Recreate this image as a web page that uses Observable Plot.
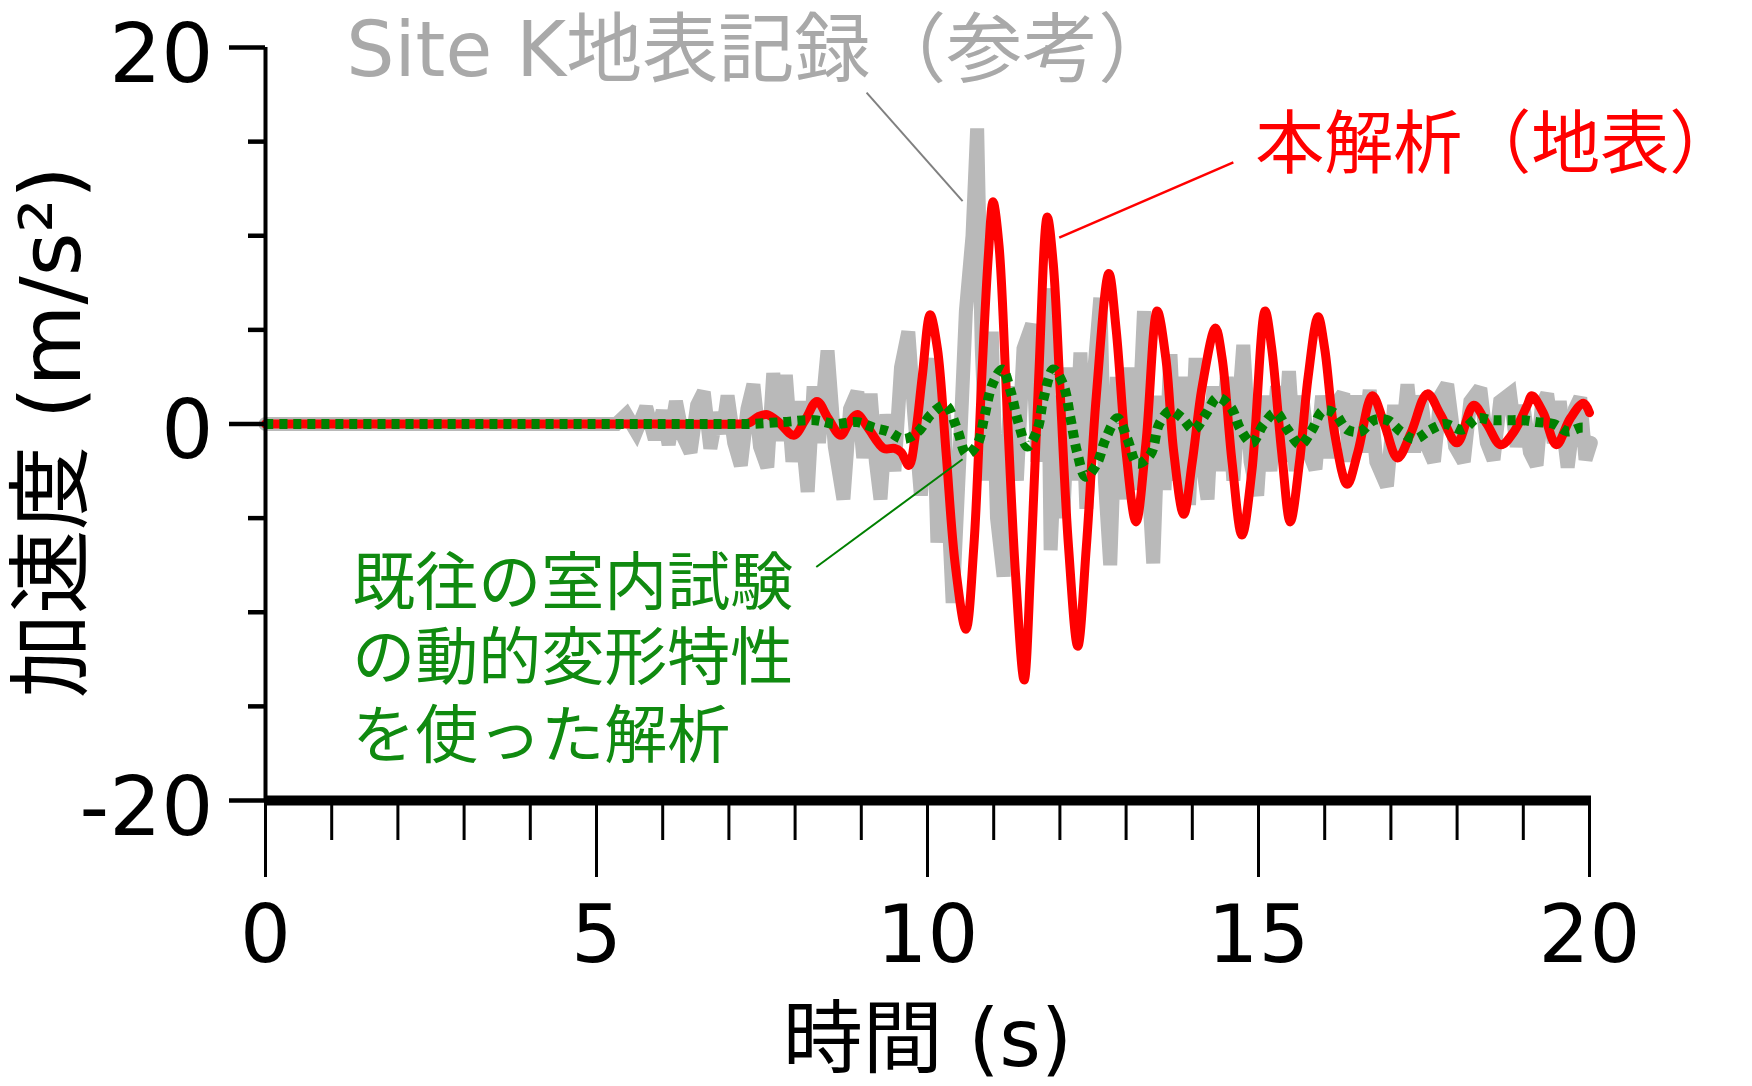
<!DOCTYPE html>
<html>
<head>
<meta charset="utf-8">
<script src="https://cdn.jsdelivr.net/npm/d3@7"></script>
<script src="https://cdn.jsdelivr.net/npm/@observablehq/plot@0.6"></script>
<style>
  html, body { margin: 0; padding: 0; background: #fff; }
  #chart svg { display: block; }
</style>
</head>
<body>
<div id="chart"></div>
<script>
// ---- data ----
// Site K surface record (reference, gray)
const grayT = [0, 5.3, 5.45, 5.6, 5.75, 5.88, 6.0, 6.09, 6.2, 6.3, 6.42, 6.52, 6.62, 6.72, 6.82, 6.9, 6.98, 7.08, 7.18, 7.28, 7.37, 7.47, 7.58, 7.67, 7.77, 7.86, 7.96, 8.06, 8.19, 8.28, 8.36, 8.49, 8.6, 8.73, 8.83, 8.94, 9.03, 9.14, 9.22, 9.29, 9.38, 9.5, 9.6, 9.71, 9.8, 9.9, 10.0, 10.07, 10.15, 10.25, 10.38, 10.48, 10.58, 10.68, 10.75, 10.82, 10.9, 10.97, 11.05, 11.15, 11.25, 11.35, 11.45, 11.58, 11.66, 11.72, 11.81, 11.86, 11.96, 12.05, 12.15, 12.22, 12.31, 12.4, 12.5, 12.61, 12.68, 12.76, 12.86, 12.96, 13.05, 13.15, 13.27, 13.33, 13.41, 13.5, 13.58, 13.67, 13.76, 13.85, 13.95, 14.05, 14.15, 14.23, 14.32, 14.42, 14.52, 14.62, 14.77, 14.88, 14.98, 15.08, 15.18, 15.28, 15.37, 15.46, 15.56, 15.66, 15.76, 15.86, 15.96, 16.06, 16.16, 16.28, 16.38, 16.48, 16.58, 16.68, 16.78, 16.94, 17.05, 17.15, 17.25, 17.35, 17.45, 17.55, 17.65, 17.75, 17.85, 17.97, 18.1, 18.2, 18.35, 18.45, 18.55, 18.65, 18.8, 18.9, 19.0, 19.1, 19.2, 19.28, 19.36, 19.46, 19.55, 19.67, 19.78, 19.86, 19.94, 20.02];
const grayV = [0, 0, 0.5, -0.4, 0.9, -0.8, 0.7, -1.1, 1.2, -0.6, -1.5, 1.0, 1.7, -1.3, 0.6, -0.5, 1.5, -1.0, -2.2, 0.8, 2.1, -1.2, -2.3, 2.7, -0.9, 2.6, -2.0, 1.2, -3.6, 2.0, -1.0, 3.9, -1.2, -4.0, 0.8, 1.7, -1.8, 1.6, -2.0, -4.0, 0.5, -2.5, 3.0, 4.9, 0.5, -3.8, 1.0, 3.5, -6.3, 0.5, -9.5, -2.0, 6.0, 10.0, 15.7, 4.0, -3.0, 4.9, -5.0, -8.1, 2.0, -3.0, 4.0, 5.3, -2.0, 3.0, 7.2, -6.7, 1.5, -5.0, 3.0, -3.0, 3.8, -4.5, 2.0, 6.7, -3.0, -7.5, 2.5, -4.0, 3.0, -3.5, 6.0, -2.5, -7.4, 1.5, -3.5, 3.7, -3.0, 2.5, -4.3, 3.5, -2.0, -4.0, 2.0, -2.5, 2.5, -3.0, 4.2, -2.0, -3.8, 1.5, -2.5, 2.0, -2.0, 2.8, -2.5, 1.5, -1.5, -2.4, 1.5, -1.8, 1.0, 1.6, -2.0, 1.5, -1.5, 1.8, -2.0, -3.3, 1.0, -1.5, 2.1, -1.5, 1.5, -1.2, -2.0, 1.5, 2.1, -1.2, -2.0, 1.2, 1.9, -1.0, -1.9, 1.2, 1.6, -1.2, 1.0, -1.5, -2.2, 1.0, 1.6, -1.0, 1.2, -2.3, 0.8, 1.4, -1.9, -1.0];

// This analysis (surface, red)
const redT = [0, 3.0, 6.0, 7.1, 7.3, 7.45, 7.58, 7.75, 7.98, 8.15, 8.33, 8.5, 8.69, 8.82, 8.94, 9.1, 9.34, 9.5, 9.6, 9.72, 9.82, 9.92, 10.04, 10.15, 10.28, 10.42, 10.58, 10.7, 10.82, 10.92, 10.99, 11.08, 11.2, 11.33, 11.46, 11.56, 11.68, 11.81, 11.9, 12.0, 12.13, 12.27, 12.4, 12.55, 12.74, 12.85, 13.0, 13.15, 13.3, 13.47, 13.6, 13.72, 13.87, 14.0, 14.15, 14.35, 14.45, 14.6, 14.75, 14.9, 15.1, 15.2, 15.35, 15.48, 15.62, 15.75, 15.9, 16.0, 16.15, 16.34, 16.5, 16.72, 16.9, 17.1, 17.3, 17.55, 17.75, 18.0, 18.25, 18.45, 18.66, 18.86, 19.06, 19.13, 19.3, 19.5, 19.71, 19.91, 20.0];
const redV = [0, 0, 0, 0, 0.05, 0.4, 0.5, 0.1, -0.6, 0.2, 1.2, 0.3, -0.6, 0.1, 0.5, -0.2, -1.3, -1.3, -1.5, -2.2, -0.5, 2.5, 5.8, 4.0, -1.5, -7.5, -10.9, -6.5, 2.5, 9.0, 11.8, 9.5, 1.0, -8.0, -13.6, -7.5, 2.5, 11.0, 8.5, 2.0, -6.5, -11.8, -6.5, 1.5, 8.0, 5.0, -1.5, -5.2, -1.0, 6.0, 3.5, -1.5, -4.8, -2.0, 2.0, 5.1, 3.5, -2.0, -5.9, -2.5, 6.0, 4.0, -1.5, -5.2, -2.0, 2.5, 5.7, 4.0, -0.5, -3.2, -1.5, 1.5, 0.0, -1.8, -0.5, 1.6, 0.5, -1.0, 1.0, 0.0, -1.1, -0.4, 1.0, 1.5, 0.6, -1.1, 0.3, 1.1, 0.6];

// Analysis using previous laboratory dynamic deformation properties (green, dotted)
const greenT = [0, 3.0, 6.0, 7.1, 7.3, 7.8, 8.3, 8.6, 8.94, 9.19, 9.41, 9.64, 9.86, 10.05, 10.27, 10.45, 10.59, 10.75, 10.86, 10.98, 11.13, 11.25, 11.37, 11.51, 11.66, 11.75, 11.9, 12.05, 12.16, 12.26, 12.39, 12.56, 12.69, 12.87, 13.02, 13.17, 13.37, 13.5, 13.67, 13.85, 14.02, 14.2, 14.38, 14.58, 14.73, 14.9, 15.08, 15.26, 15.44, 15.63, 15.81, 15.97, 16.14, 16.34, 16.54, 16.74, 16.95, 17.15, 17.36, 17.6, 17.82, 18.08, 18.3, 18.53, 18.76, 19.0, 19.2, 19.46, 19.67, 19.86, 19.95];
const greenV = [0, 0, 0, 0, 0, 0.1, 0.2, 0, 0.1, -0.2, -0.4, -0.8, -0.4, 0.5, 1.0, -0.3, -1.6, -1.1, 0.4, 2.1, 2.9, 1.8, 0.1, -1.2, -0.3, 1.3, 2.9, 2.1, 0.3, -1.5, -2.8, -2.1, -0.8, 0.3, -0.8, -2.1, -1.6, 0.0, 0.7, 0.3, -0.3, 0.5, 1.4, 0.9, -0.3, -1.0, 0.0, 0.6, -0.3, -1.1, -0.3, 0.7, 0.6, -0.3, -0.4, 0.2, 0.2, -0.4, -0.8, -0.3, 0.0, -0.3, 0.3, 0.2, 0.2, 0.2, 0.1, 0.0, -0.4, -0.2, -0.2];

// axes
const xMajorTicks = [0, 5, 10, 15, 20];
const xMinorTicks = [1, 2, 3, 4, 6, 7, 8, 9, 11, 12, 13, 14, 16, 17, 18, 19];
const yMajorTicks = [-20, 0, 20];
const yMinorTicks = [-15, -10, -5, 5, 10, 15];
const yTickLabels = ["-20", "0", "20"];
const xTickLabels = ["0", "5", "10", "15", "20"];

// texts
const xTitle = "時間 (s)";
const yTitle = "加速度 (m/s²)";
const grayLabel = "Site K地表記録（参考）";
const redLabel = "本解析（地表）";
const greenLabel = ["既往の室内試験", "の動的変形特性", "を使った解析"];

// ---- build records ----
const gray = grayT.map((t, i) => ({t, v: grayV[i]}));
const red = redT.map((t, i) => ({t, v: redV[i]}));
const green = greenT.map((t, i) => ({t, v: greenV[i]}));

const FONT = '"DejaVu Sans", "Noto Sans CJK JP", sans-serif';
const JFONT = '"Noto Sans CJK JP", "DejaVu Sans", sans-serif';

const chart = Plot.plot({
  width: 1752,
  height: 1086,
  marginLeft: 265,
  marginRight: 163,
  marginTop: 47,
  marginBottom: 286,
  x: {domain: [0, 20], axis: null},
  y: {domain: [-20, 20], axis: null},
  style: {fontFamily: FONT, background: "#fff", color: "#000"},
  marks: [
    // data series
    Plot.line(gray, {x: "t", y: "v", stroke: "#b9b9b9", strokeWidth: 14, strokeLinejoin: "miter", strokeMiterlimit: 2.5}),
    Plot.line(red, {x: "t", y: "v", curve: "catmull-rom", stroke: "#ff0000", strokeWidth: 9, strokeLinejoin: "round"}),
    Plot.line(green, {x: "t", y: "v", curve: "catmull-rom", stroke: "#008000", strokeWidth: 10, strokeDasharray: "8,6", strokeLinecap: "butt"}),

    // axis lines
    Plot.ruleX([0], {y1: -20, y2: 20, stroke: "#000", strokeWidth: 4}),
    Plot.ruleY([-20], {x1: 0, x2: 20.03, stroke: "#000", strokeWidth: 10}),

    // y ticks
    Plot.axisY({ticks: yMajorTicks, tickSize: 36, tickFormat: () => "", strokeWidth: 4.5, label: null}),
    Plot.axisY({ticks: yMinorTicks, tickSize: 17, tickFormat: () => "", strokeWidth: 4.5, label: null}),
    Plot.text(yMajorTicks, {x: 0, y: d => d, text: (d, i) => yTickLabels[i], textAnchor: "end", dx: -52, dy: 8, fontSize: 82, fill: "#000"}),

    // x ticks
    Plot.axisX({ticks: xMajorTicks, tickSize: 77, tickFormat: () => "", strokeWidth: 3, label: null}),
    Plot.axisX({ticks: xMinorTicks, tickSize: 40, tickFormat: () => "", strokeWidth: 3, label: null}),
    Plot.text(xMajorTicks, {x: d => d, y: -20, text: (d, i) => xTickLabels[i], dy: 136, fontSize: 80, fill: "#000"}),

    // axis titles
    Plot.text([xTitle], {frameAnchor: "bottom", textAnchor: "middle", lineAnchor: "middle", dy: 240, fontSize: 80, fill: "#000", fontFamily: FONT}),
    Plot.text([yTitle], {frameAnchor: "left", textAnchor: "middle", lineAnchor: "middle", dx: -212, dy: 8, rotate: -90, fontSize: 84, fill: "#000", fontFamily: FONT}),

    // leader lines
    Plot.link([grayLabel], {x1: 9.08, y1: 17.6, x2: 10.53, y2: 11.84, stroke: "#808080", strokeWidth: 2}),
    Plot.link([redLabel], {x1: 14.62, y1: 13.9, x2: 11.99, y2: 9.9, stroke: "#ff0000", strokeWidth: 2.5}),
    Plot.link([greenLabel[0]], {x1: 8.32, y1: -7.6, x2: 10.53, y2: -1.87, stroke: "#008000", strokeWidth: 2}),

    // annotations
    Plot.text([grayLabel], {x: 1.22, y: 19.8, text: d => d, textAnchor: "start", fontSize: 76, fill: "#a9a9a9", fontFamily: FONT}),
    Plot.text([redLabel], {x: 14.95, y: 14.77, text: d => d, textAnchor: "start", fontSize: 69, fill: "#ff0000", fontFamily: JFONT}),
    Plot.text(greenLabel, {x: 1.31, y: (d, i) => [-8.5, -12.5, -16.6][i], text: d => d, textAnchor: "start", fontSize: 63, fill: "#108a10", fontFamily: JFONT})
  ]
});

document.getElementById("chart").appendChild(chart);
</script>
</body>
</html>
